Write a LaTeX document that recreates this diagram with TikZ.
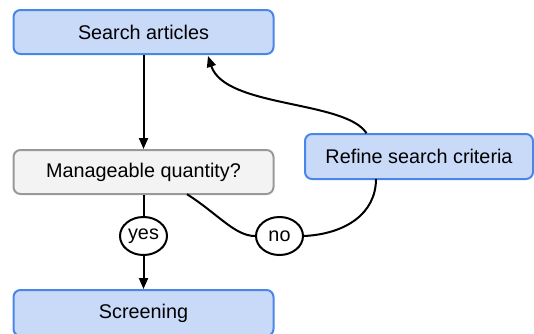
\documentclass[tikz,border=0pt]{standalone}
\usepackage{fontspec}
\setmainfont{Liberation Sans}
\usetikzlibrary{arrows.meta,shapes.geometric}
\definecolor{stepfill}{HTML}{C9DAF8}
\definecolor{stepline}{HTML}{4A86E8}
\definecolor{askfill}{HTML}{F3F3F3}
\definecolor{askline}{HTML}{999999}
\tikzset{
  base/.style={rounded corners=7pt, line width=2pt, inner sep=0pt,
    font=\fontsize{19.8}{23}\selectfont, text=black},
  stepbox/.style={base, draw=stepline, fill=stepfill},
  askbox/.style={base, draw=askline, fill=askfill},
  tag/.style={ellipse, draw=black, line width=2pt, fill=white, inner sep=0pt,
    minimum width=47pt, minimum height=38pt, font=\fontsize{19.8}{23}\selectfont},
  link/.style={line width=2pt, draw=black},
  tip/.style={-{Triangle[length=11pt,width=9pt]}},
}
\begin{document}
\begin{tikzpicture}[x=1pt,y=-1pt]
  \useasboundingbox (0,0) rectangle (534,333);
  % boxes
  \node[stepbox, minimum width=260pt, minimum height=44pt] (search) at (143.5,32) {Search articles};
  \node[askbox, minimum width=260pt, minimum height=44pt] (ask) at (143.5,172) {Manageable quantity?};
  \node[stepbox, minimum width=228pt, minimum height=45pt] (refine) at (419,156.5) {Refine search criteria};
  \node[stepbox, minimum width=260pt, minimum height=46pt] (screen) at (143.5,313) {Screening};
  % decision labels
  \node[tag] (yes) at (143.5,236) {yes};
  \node[tag] (no) at (279.5,236) {no};
  % connectors
  \draw[link, tip] (search) -- (ask);
  \draw[link] (ask) -- (yes);
  \draw[link, tip] (yes) -- (screen);
  \coordinate (askout) at (187,194.2);
  \coordinate (refin) at (376,178.8);
  \coordinate (refout) at (366.5,133.2);
  \coordinate (searchin) at (208,56);
  \draw[link] (askout) .. controls (218,214) and (235,236) .. (no.west);
  \draw[link] (no.east) .. controls (345,234) and (376,214) .. (refin);
  \draw[link, tip] (refout) .. controls (345,100) and (225,108) .. (searchin);
\end{tikzpicture}
\end{document}
